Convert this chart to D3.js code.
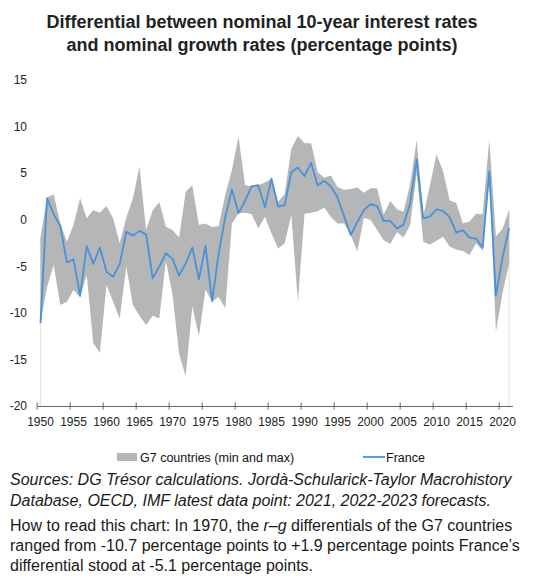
<!DOCTYPE html>
<html>
<head>
<meta charset="utf-8">
<script src="https://cdn.jsdelivr.net/npm/d3@7"></script>
<style>
  html, body { margin: 0; padding: 0; background: #fff; }
  svg { display: block; font-family: "Liberation Sans", Arial, sans-serif; }
</style>
</head>
<body>
<svg id="chart" width="547" height="580"></svg>
<script>
const years = d3.range(1950, 2022);
const g7Max = [
  -1.85, 2.4, 2.7, -0.4, -2.36, -0.57, 2.3, 0.15, 1.04, 0.75,
  1.47, 0.15, -2.54, 0.2, 2.3, 5.7, -1.1, 1.0, 1.9, -0.75,
  -1.1, -1.9, 3.0, 3.7, -0.57, -0.4, -0.8, -0.68, 2.7, 5.3,
  8.9, 3.7, 3.6, 3.7, 4.0, 4.4, 1.9, 2.8, 7.6, 9.0,
  8.2, 8.2, 5.1, 4.5, 4.75, 3.5, 3.23, 3.3, 3.46, 2.9,
  3.37, 3.37, 0.55, 2.02, 1.13, 0.86, 3.8, 8.55, 0.4, 3.7,
  7.0, 5.2, 2.05, 1.8, -0.4, -0.2, 0.64, 0.58, 8.6, -1.78,
  -1.0, 1.04
];
const g7Min = [
  -11.1, -7.2, -4.87, -9.16, -8.8, -7.55, -8.3, -5.93, -13.27, -14.28,
  -7.0, -8.8, -10.6, -5.04, -9.16, -10.3, -11.3, -10.3, -10.6, -4.4,
  -8.0, -14.4, -16.8, -9.3, -12.5, -7.5, -8.8, -8.3, -9.5, -0.4,
  0.7, 0.75, 0.6, -0.93, 0.33, -1.47, -3.08, -2.54, 0.5, -8.8,
  0.65, 0.75, 0.9, 1.3, 0.3, -0.4, -0.4, -1.64, -3.42, 0.2,
  -0.03, -1.1, -2.2, -2.57, -1.35, -1.9, -0.6, 5.0, -2.36, -2.7,
  -2.25, -1.83, -2.9, -3.2, -3.35, -3.8, -2.54, -3.33, 4.8, -12.0,
  -7.9, -4.7
];
const france = [
  -11.1, 2.3, 0.6, -0.68, -4.6, -4.26, -8.18, -2.85, -4.75, -2.98,
  -5.6, -6.12, -4.76, -1.29, -1.71, -1.2, -1.57, -6.3, -5.0, -3.6,
  -4.2, -6.0, -4.7, -3.0, -6.4, -2.8, -8.75, -3.6, 0.3, 3.26,
  0.7, 2.04, 3.6, 3.7, 1.35, 4.4, 1.4, 1.57, 5.1, 5.6,
  4.7, 6.1, 3.7, 4.17, 3.57, 2.4, 0.37, -1.64, -0.26, 1.04,
  1.68, 1.47, -0.12, -0.14, -0.93, -0.55, 1.75, 6.48, 0.15, 0.33,
  1.1, 0.94, 0.25, -1.38, -1.12, -1.93, -2.02, -3.0, 5.17, -8.18,
  -4.07, -0.9
];
const xLabelYears = d3.range(1950, 2021, 5);
const yTicks = [15, 10, 5, 0, -5, -10, -15, -20];
const titleLines = [
  "Differential between nominal 10-year interest rates",
  "and nominal growth rates (percentage points)"
];
const legendLabels = ["G7 countries (min and max)", "France"];

const svg = d3.select("#chart");
const x = d3.scaleBand().domain(years).range([37.2, 512.4]).paddingInner(0).paddingOuter(0);
const cx = yr => x(yr) + x.bandwidth() / 2;
const y = d3.scaleLinear().domain([-20, 15]).range([406, 80]);

const data = years.map((yr, i) => ({ yr, lo: g7Min[i], hi: g7Max[i], fr: france[i] }));

// Title
svg.append("g").selectAll("text").data(titleLines).join("text")
  .attr("x", 262).attr("y", (d, i) => 28 + i * 23)
  .attr("text-anchor", "middle")
  .attr("font-size", 18).attr("font-weight", "bold").attr("fill", "#222")
  .text(d => d);

// faint edge lines of area
svg.append("g").selectAll("line").data([data[0], data[data.length - 1]]).join("line")
  .attr("x1", d => cx(d.yr)).attr("x2", d => cx(d.yr))
  .attr("y1", d => y(d.hi)).attr("y2", y(-20))
  .attr("stroke", "#e2e2e2").attr("stroke-width", 1);

// Band
svg.append("path").datum(data)
  .attr("fill", "#b4b6b7")
  .attr("d", d3.area().x(d => cx(d.yr)).y0(d => y(d.lo)).y1(d => y(d.hi)));

// France line
svg.append("path").datum(data)
  .attr("fill", "none").attr("stroke", "#4a92d8").attr("stroke-width", 1.8)
  .attr("stroke-linejoin", "round")
  .attr("d", d3.line().x(d => cx(d.yr)).y(d => y(d.fr)));

// Y axis labels
const yAxis = svg.append("g").attr("transform", "translate(30,0)")
  .call(d3.axisLeft(y).tickValues(yTicks).tickSize(0).tickPadding(3).tickFormat(d => String(d)));
yAxis.select(".domain").remove();
yAxis.selectAll("text").attr("font-size", 12).attr("fill", "#222").attr("font-family", "Liberation Sans, Arial, sans-serif");

// X axis
const xAxis = svg.append("g").attr("transform", `translate(0,${y(-20)})`)
  .call(d3.axisBottom(x).tickValues(xLabelYears).tickSize(0).tickSizeOuter(0).tickPadding(11));
xAxis.select(".domain").attr("stroke", "#666").attr("stroke-width", 1.2);
xAxis.selectAll("text").attr("font-size", 12).attr("fill", "#222").attr("font-family", "Liberation Sans, Arial, sans-serif");
xAxis.selectAll(".tickmark").data(xLabelYears).join("line").attr("class", "tickmark")
  .attr("x1", d => x(d)).attr("x2", d => x(d))
  .attr("y1", -3.5).attr("y2", 3.5)
  .attr("stroke", "#666").attr("stroke-width", 1);

// Legend
const lg = svg.append("g");
lg.append("rect").attr("x", 117).attr("y", 453).attr("width", 20).attr("height", 8).attr("fill", "#b4b6b7");
lg.append("text").attr("x", 140).attr("y", 461.5).attr("font-size", 12.5).attr("fill", "#111").text(legendLabels[0]);
lg.append("line").attr("x1", 363).attr("x2", 385).attr("y1", 457).attr("y2", 457)
  .attr("stroke", "#4a92d8").attr("stroke-width", 1.8);
lg.append("text").attr("x", 386).attr("y", 461.5).attr("font-size", 12.5).attr("fill", "#111").text(legendLabels[1]);

// Notes
const notes = svg.append("g").attr("font-size", 16).attr("fill", "#1a1a1a");
notes.append("text").attr("x", 10).attr("y", 484.5).attr("font-style", "italic")
  .text("Sources: DG Trésor calculations. Jordà-Schularick-Taylor Macrohistory");
notes.append("text").attr("x", 10).attr("y", 505.5).attr("font-style", "italic")
  .text("Database, OECD, IMF latest data point: 2021, 2022-2023 forecasts.");
const t3 = notes.append("text").attr("x", 10).attr("y", 530.5);
t3.append("tspan").text("How to read this chart: In 1970, the ");
t3.append("tspan").attr("font-style", "italic").text("r–g");
t3.append("tspan").text(" differentials of the G7 countries");
notes.append("text").attr("x", 10).attr("y", 551)
  .text("ranged from -10.7 percentage points to +1.9 percentage points France’s");
notes.append("text").attr("x", 10).attr("y", 571)
  .text("differential stood at -5.1 percentage points.");
</script>
</body>
</html>
